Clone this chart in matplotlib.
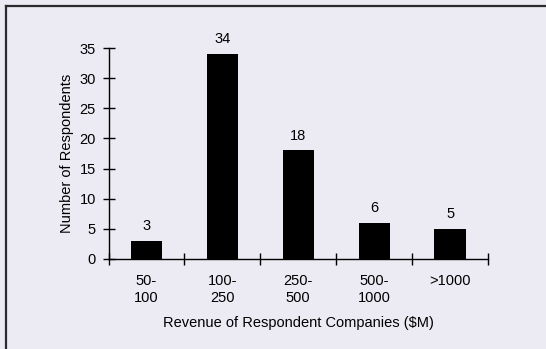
import numpy as np
import matplotlib
matplotlib.use("Agg")
import matplotlib.pyplot as plt
from matplotlib.lines import Line2D

# Data
categories = ['50-\n100', '100-\n250', '250-\n500', '500-\n1000', '>1000']
respondents = [3, 34, 18, 6, 5]

plt.rcParams['font.family'] = ['Liberation Sans', 'DejaVu Sans']
bg = '#eceaf3'
fs = 10.5

fig = plt.figure(figsize=(5.46, 3.49), dpi=100, facecolor=bg)
ax = fig.add_axes([108.5/546, 1 - 259/349, 379.5/546, 211/349])
ax.set_facecolor(bg)

x = np.arange(len(categories))
ax.bar(x, respondents, width=0.41, color='black', zorder=3)
for xi, v in zip(x, respondents):
    ax.text(xi, v + 1.3, str(v), ha='center', va='bottom', fontsize=fs)

ax.set_xlim(-0.5, len(categories) - 0.5)
ax.set_ylim(0, 35)
ax.set_yticks(range(0, 36, 5))

# boundary ticks (no labels) and centered labels
ax.set_xticks(np.arange(-0.5, len(categories), 1.0))
ax.set_xticklabels([])
ax.set_xticks(x, minor=True)
ax.set_xticklabels(categories, minor=True, fontsize=fs, linespacing=1.25)
ax.tick_params(axis='x', which='major', direction='inout', length=9, width=1)
ax.tick_params(axis='x', which='minor', length=0, pad=11)
ax.tick_params(axis='y', direction='inout', length=8, width=1, labelsize=fs, pad=5)

for s in ['top', 'right']:
    ax.spines[s].set_visible(False)
for s in ['left', 'bottom']:
    ax.spines[s].set_linewidth(1)

ax.set_xlabel('Revenue of Respondent Companies ($M)', fontsize=fs, labelpad=8)
ax.set_ylabel('Number of Respondents', fontsize=fs, labelpad=4)

# page frame lines (left and top)
fig.add_artist(Line2D([5.5/546, 5.5/546], [0, 1 - 6/349], transform=fig.transFigure,
                      color='#2a2a2a', lw=1.6))
fig.add_artist(Line2D([5.5/546, 1], [1 - 6/349, 1 - 6/349], transform=fig.transFigure,
                      color='#2a2a2a', lw=1.6))

fig.savefig('out.png', dpi=100, facecolor=bg)
